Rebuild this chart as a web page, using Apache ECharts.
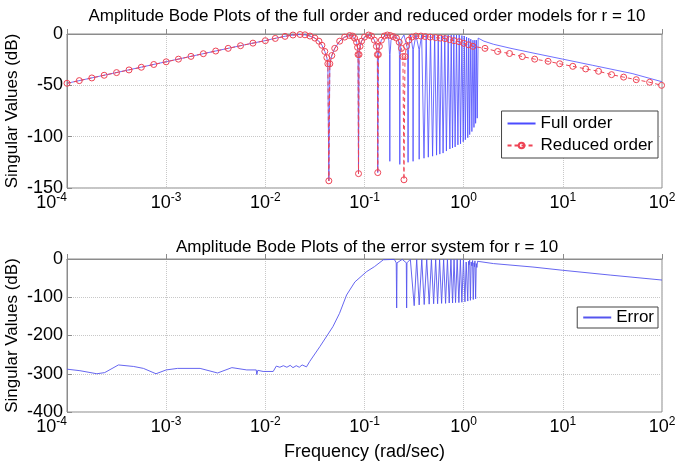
<!DOCTYPE html>
<html><head><meta charset="utf-8">
<script src="https://cdn.jsdelivr.net/npm/echarts/dist/echarts.min.js"></script>
<style>html,body{margin:0;padding:0;background:#fff}#c{width:676px;height:462px}</style>
</head><body><div id="c"></div>
<script>
// ---- data (frequency rad/s, dB) ----
const titles = ['Amplitude Bode Plots of the full order and reduced order models for r = 10',
                'Amplitude Bode Plots of the error system for r = 10'];
const seriesNames = ['Full order', 'Reduced order', 'Error'];
const topYTicks = [-150, -100, -50, 0];
const bottomYTicks = [-400, -300, -200, -100, 0];
const xTickExponents = [-4, -3, -2, -1, 0, 1, 2];

const fullOrder = [[1e-4,-48],[3e-4,-38],[1e-3,-27],[3e-3,-17],[6e-3,-10.8],[1e-2,-6.4],[0.0126,-4.2],[0.0158,-2.2],[0.019,-1.0],[0.0224,-0.5],[0.0251,-0.8],[0.0282,-2.0],[0.0316,-4.0],[0.0347,-7],[0.0372,-11],[0.0398,-17],[0.0417,-23],[0.0427,-29],[0.0437,-143],[0.0447,-29],[0.0468,-21],[0.0501,-14],[0.0562,-7],[0.0631,-3],[0.0708,-1.5],[0.0759,-2],[0.0794,-4],[0.0832,-8],[0.0851,-13],[0.0861,-20],[0.087,-136],[0.0881,-20],[0.0902,-12],[0.0933,-7],[0.1,-3],[0.11,-1],[0.1175,-2],[0.1259,-6],[0.1318,-12],[0.1349,-20],[0.136,-135],[0.138,-20],[0.1413,-12],[0.148,-6],[0.1585,-2],[0.17,-1],[0.176,-6],[0.179,-20],[0.18,-124],[0.181,-20],[0.185,-6],[0.2,-1],[0.22,-5],[0.225,-20],[0.227,-127],[0.229,-20],[0.235,-5],[0.25,-1],[0.272,-15],[0.275,-125],[0.278,-15],[0.292,-1],[0.307,-15],[0.309,-124],[0.311,-15],[0.33,-1],[0.354,-15],[0.356,-122],[0.358,-15],[0.377,-1],[0.398,-121],[0.419,-1],[0.44,-120],[0.463,-1],[0.486,-119],[0.51,-1],[0.533,-118],[0.554,-1],[0.575,-117],[0.597,-1],[0.62,-116],[0.645,-1],[0.67,-114],[0.698,-1],[0.726,-112],[0.749,-1],[0.772,-111],[0.796,-1],[0.82,-110],[0.847,-1],[0.875,-108],[0.902,-1],[0.93,-107],[0.96,-1.5],[0.99,-105],[1.015,-2],[1.04,-103],[1.07,-3],[1.10,-101],[1.125,-4],[1.15,-98],[1.18,-5],[1.21,-95],[1.24,-6],[1.27,-91],[1.295,-6],[1.32,-87],[1.345,-6],[1.37,-82],[1.40,-4],[1.6,-7],[2,-10],[3,-14],[5,-18.5],[10,-24.5],[20,-30.5],[50,-38.5],[100,-46.5]];

const reducedOrder = [[1e-4,-48],[1.33e-4,-45.4],[1.78e-4,-42.8],[2.37e-4,-40.2],[3.16e-4,-37.6],[4.22e-4,-35],[5.62e-4,-32.4],[7.5e-4,-29.7],[1e-3,-27.1],[1.33e-3,-24.5],[1.78e-3,-21.8],[2.37e-3,-19.2],[3.16e-3,-16.6],[4.22e-3,-14],[5.62e-3,-11.4],[7.5e-3,-8.9],[1e-2,-6.5],[0.0126,-4.3],[0.0158,-2.3],[0.019,-1.0],[0.0224,-0.5],[0.0251,-0.8],[0.0282,-2.0],[0.0316,-4.0],[0.0347,-7],[0.0372,-11],[0.0398,-17],[0.0417,-23],[0.0427,-29],[0.0437,-143],[0.0447,-29],[0.0468,-21],[0.0501,-14],[0.0562,-7],[0.0631,-3],[0.0708,-1.5],[0.0759,-2],[0.0794,-4],[0.0832,-8],[0.0851,-13],[0.0861,-20],[0.087,-136],[0.0881,-20],[0.0902,-12],[0.0933,-7],[0.1,-3],[0.11,-1],[0.1175,-2],[0.1259,-6],[0.1318,-12],[0.1349,-20],[0.136,-135],[0.138,-20],[0.1413,-12],[0.148,-6],[0.1585,-2],[0.17,-1],[0.182,-1.5],[0.195,-2.5],[0.21,-4],[0.224,-8],[0.236,-14],[0.244,-22],[0.25,-142],[0.256,-22],[0.265,-12],[0.28,-6],[0.3,-3],[0.33,-2],[0.37,-2],[0.41,-2.5],[0.46,-3],[0.52,-3.5],[0.58,-4],[0.65,-4.5],[0.72,-5.5],[0.8,-6.5],[0.9,-7.5],[1.0,-9],[1.12,-10.5],[1.24,-12],[1.64,-14],[2.2,-17],[2.9,-19],[3.9,-22],[5.2,-24.5],[7.1,-26.6],[9.3,-29],[12.6,-31.5],[17,-34],[22.9,-36.3],[31,-39.6],[41,-42],[55,-44.5],[75,-47],[99,-50]];

const errorSystem = [[1e-4,-288],[1.35e-4,-292],[2.0e-4,-300],[2.4e-4,-297],[3.3e-4,-277],[4.7e-4,-281],[5.9e-4,-286],[7.9e-4,-300],[1e-3,-290],[1.3e-3,-286],[2.2e-3,-286],[3.3e-3,-298],[4.6e-3,-284],[6.5e-3,-290],[8.1e-3,-290],[8.2e-3,-302],[8.4e-3,-291],[9.5e-3,-294],[0.012,-294],[0.0129,-280],[0.014,-283],[0.0152,-279],[0.0165,-283],[0.0178,-278],[0.019,-284],[0.0205,-279],[0.022,-283],[0.0235,-277],[0.026,-282],[0.028,-268],[0.0355,-229],[0.048,-177],[0.056,-142],[0.066,-94],[0.08,-60],[0.105,-33],[0.126,-20],[0.155,-2],[0.2,-1],[0.209,-10],[0.211,-128],[0.213,-10],[0.24,-1],[0.264,-10],[0.266,-128],[0.268,-10],[0.29,-1],[0.317,-122],[0.336,-1],[0.356,-120],[0.378,-1],[0.4,-119],[0.424,-1],[0.449,-118],[0.473,-1],[0.498,-117],[0.522,-1],[0.546,-117],[0.572,-1],[0.599,-116],[0.628,-1],[0.657,-116],[0.686,-1],[0.715,-115],[0.744,-1],[0.773,-115],[0.8,-1],[0.828,-114],[0.86,-1],[0.895,-114],[0.927,-1],[0.959,-113],[0.995,-2],[1.03,-112],[1.06,-8],[1.08,-3],[1.10,-110],[1.12,-6],[1.135,-15],[1.15,-3],[1.17,-108],[1.19,-8],[1.21,-18],[1.23,-4],[1.25,-106],[1.27,-10],[1.285,-20],[1.30,-5],[1.32,-104],[1.34,-12],[1.36,-22],[1.38,-6],[1.42,-7],[2,-12],[5,-21],[10,-29.5],[30,-42],[100,-55]];

// ---- chart ----
const FONT = '"Liberation Sans", Arial, Helvetica, sans-serif';
const AX = '#8c8c8c';
const chart = echarts.init(document.getElementById('c'), null, {renderer: 'canvas'});

function xAxisCfg(gridIndex, name) {
  return {
    type: 'log', logBase: 10, gridIndex: gridIndex,
    min: Math.pow(10, xTickExponents[0]), max: Math.pow(10, xTickExponents[xTickExponents.length - 1]),
    splitNumber: xTickExponents.length - 1,
    name: name || '', nameLocation: 'middle', nameGap: 31, nameMoveOverlap: false,
    nameTextStyle: {fontSize: 18, color: '#000', fontFamily: FONT},
    axisLine: {show: true, lineStyle: {color: AX, width: 1}},
    axisTick: {show: true, inside: true, length: 5, lineStyle: {color: AX}},
    splitLine: {show: true, lineStyle: {color: '#c8c8c8', type: 'dotted', width: 1}},
    axisLabel: {
      margin: 4, alignMinLabel: 'right',
      formatter: v => '{b|10}{s|' + Math.round(Math.log10(v)) + '}',
      rich: {
        b: {fontSize: 18, color: '#000', fontFamily: FONT},
        s: {fontSize: 12, color: '#000', fontFamily: FONT, padding: [0, 0, 11, 0]}
      }
    }
  };
}
function yAxisCfg(gridIndex, ticks) {
  return {
    type: 'value', gridIndex: gridIndex,
    min: ticks[0], max: ticks[ticks.length - 1], interval: ticks[1] - ticks[0],
    name: 'Singular Values (dB)', nameLocation: 'middle', nameGap: 46, nameRotate: 90,
    nameMoveOverlap: false,
    nameTextStyle: {fontSize: 17, color: '#000', fontFamily: FONT},
    axisLine: {show: true, lineStyle: {color: AX, width: 1}},
    axisTick: {show: true, inside: true, length: 5, lineStyle: {color: AX}},
    splitLine: {show: true, lineStyle: {color: '#c8c8c8', type: 'dotted', width: 1}},
    axisLabel: {margin: 4, fontSize: 18, color: '#000', fontFamily: FONT}
  };
}
const legendBase = {
  orient: 'vertical', borderColor: '#444', borderWidth: 1, backgroundColor: '#fff',
  itemWidth: 28, itemHeight: 7, itemGap: 5, right: 18,
  textStyle: {fontSize: 17, color: '#000', fontFamily: FONT}
};

chart.setOption({
  animation: false,
  backgroundColor: '#fff',
  title: [
    {text: titles[0], left: 362, top: 3, textAlign: 'center',
     textStyle: {fontSize: 17, fontWeight: 'normal', color: '#000', fontFamily: FONT}},
    {text: titles[1], left: 362, top: 234, textAlign: 'center',
     textStyle: {fontSize: 17, fontWeight: 'normal', color: '#000', fontFamily: FONT}}
  ],
  grid: [
    {left: 67, right: 14, top: 34, height: 154, show: true, borderColor: AX, borderWidth: 1, containLabel: false, outerBoundsMode: 'none'},
    {left: 67, right: 14, top: 259, height: 153, show: true, borderColor: AX, borderWidth: 1, containLabel: false, outerBoundsMode: 'none'}
  ],
  xAxis: [xAxisCfg(0), xAxisCfg(1, 'Frequency (rad/sec)')],
  yAxis: [yAxisCfg(0, topYTicks), yAxisCfg(1, bottomYTicks)],
  legend: [
    Object.assign({}, legendBase, {data: [{name: seriesNames[0], itemStyle: {opacity: 0}}, seriesNames[1]], top: 111, padding: [4, 5, 4, 5]}),
    Object.assign({}, legendBase, {data: [{name: seriesNames[2], itemStyle: {opacity: 0}}], top: 307, padding: [2, 4, 2, 5]})
  ],
  series: [
    {name: seriesNames[0], type: 'line', xAxisIndex: 0, yAxisIndex: 0, data: fullOrder,
     symbol: 'none', clip: true, color: '#4b4bff',
     lineStyle: {color: '#4b4bff', width: 0.8}},
    {name: seriesNames[1], type: 'line', xAxisIndex: 0, yAxisIndex: 0, data: reducedOrder,
     symbol: 'circle', symbolSize: 6, clip: true, color: '#ee4455',
     itemStyle: {color: 'rgba(255,255,255,0)', borderColor: '#ee4455', borderWidth: 1},
     lineStyle: {color: '#ee4455', width: 1, type: [4, 3]}},
    {name: seriesNames[2], type: 'line', xAxisIndex: 1, yAxisIndex: 1, data: errorSystem,
     symbol: 'none', clip: true, color: '#5555ee',
     lineStyle: {color: '#5555ee', width: 0.9}}
  ]
});
</script>
</body></html>
